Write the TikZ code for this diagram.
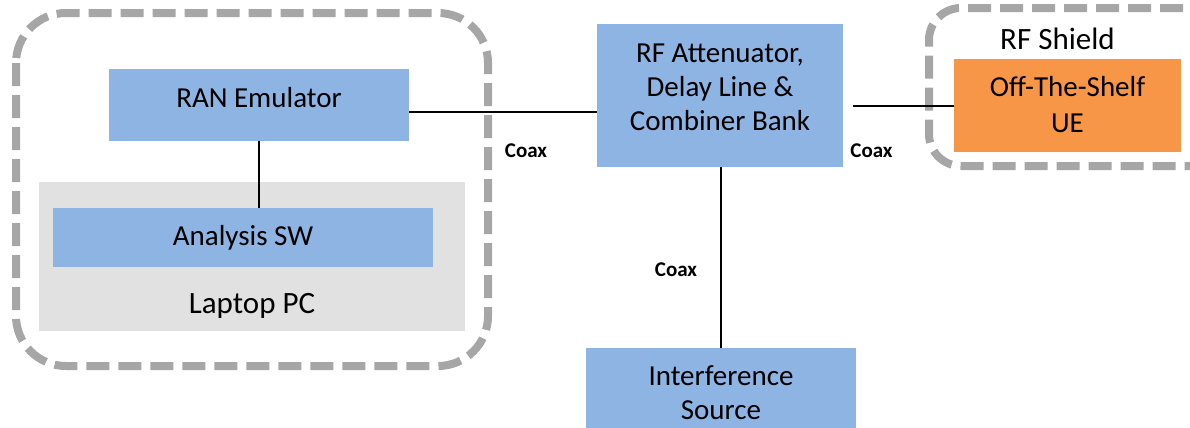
\documentclass[tikz,border=0pt]{standalone}
\usepackage{fontspec}
\setmainfont{Carlito}
\definecolor{boxblue}{HTML}{8EB4E3}
\definecolor{ueorange}{HTML}{F79646}
\definecolor{dashgray}{HTML}{A6A6A6}
\definecolor{pcgray}{HTML}{E1E1E1}
\tikzset{
  x=0.5pt, y=-0.5pt,
  bluebox/.style={fill=boxblue, draw=none},
  shieldline/.style={draw=dashgray, line width=4pt, dash pattern=on 11.5pt off 4.5pt},
  txt/.style={anchor=base, inner sep=0pt, font=\fontsize{14.5pt}{17pt}\selectfont},
  bigtxt/.style={anchor=base, inner sep=0pt, font=\fontsize{15.5pt}{18pt}\selectfont},
  coax/.style={anchor=base, inner sep=0pt, font=\fontsize{10.5pt}{12pt}\selectfont\bfseries},
  conn/.style={draw=black, line width=1pt},
}
\begin{document}
\begin{tikzpicture}
\useasboundingbox (0,0) rectangle (1190,428);
% left dashed enclosure
\draw[shieldline, rounded corners=25pt] (16,13) rectangle (488,366);
% RF shield enclosure
\draw[shieldline, rounded corners=16pt] (1215,8) -- (929,8) -- (929,166) -- (1215,166);
% laptop
\fill[pcgray] (39,182) rectangle (465,331);
% boxes
\node[bluebox, inner sep=0pt, minimum width=150pt, minimum height=36pt] (ran) at (259,105) {};
\node[bluebox, inner sep=0pt, minimum width=190pt, minimum height=29.5pt] (ana) at (243,237.5) {};
\node[bluebox, inner sep=0pt, minimum width=123pt, minimum height=71.5pt] (rf) at (720,95.5) {};
\node[fill=ueorange, inner sep=0pt, minimum width=113.5pt, minimum height=46.5pt] (ue) at (1067.5,105.5) {};
\node[bluebox, inner sep=0pt, minimum width=135pt, minimum height=46pt] (intf) at (721,394) {};
% texts
\node[txt] (rantxt) at (259,107) {RAN Emulator};
\node[txt] (anatxt) at (243,245) {Analysis SW};
\node[bigtxt] (pctxt) at (252,313) {Laptop PC};
\node[txt] (rf1) at (720,62) {RF Attenuator,};
\node[txt] (rf2) at (720,96) {Delay Line \&};
\node[txt] (rf3) at (720,130) {Combiner Bank};
\node[txt] (ue1) at (1067.5,97) {Off-The-Shelf};
\node[txt] (ue2) at (1067.5,132) {UE};
\node[bigtxt] (shieldtxt) at (1057.5,49) {RF Shield};
\node[txt] (if1) at (721,385) {Interference};
\node[txt] (if2) at (721,419) {Source};
\node[coax] (coaxl) at (526,157) {Coax};
\node[coax] (coaxr) at (871.5,157) {Coax};
\node[coax] (coaxb) at (676,276) {Coax};
% connectors
\draw[conn] (ran.south) -- (ran.south |- ana.north);
\draw[conn] ([yshift=-3.5pt]ran.east) -- ([yshift=-3.5pt]ran.east -| rf.west);
\draw[conn] ([xshift=5pt]ue.west -| rf.east) -- (ue.west);
\draw[conn] ([xshift=0.35pt]rf.south) -- ([xshift=0.35pt]rf.south |- intf.north);
\end{tikzpicture}
\end{document}
